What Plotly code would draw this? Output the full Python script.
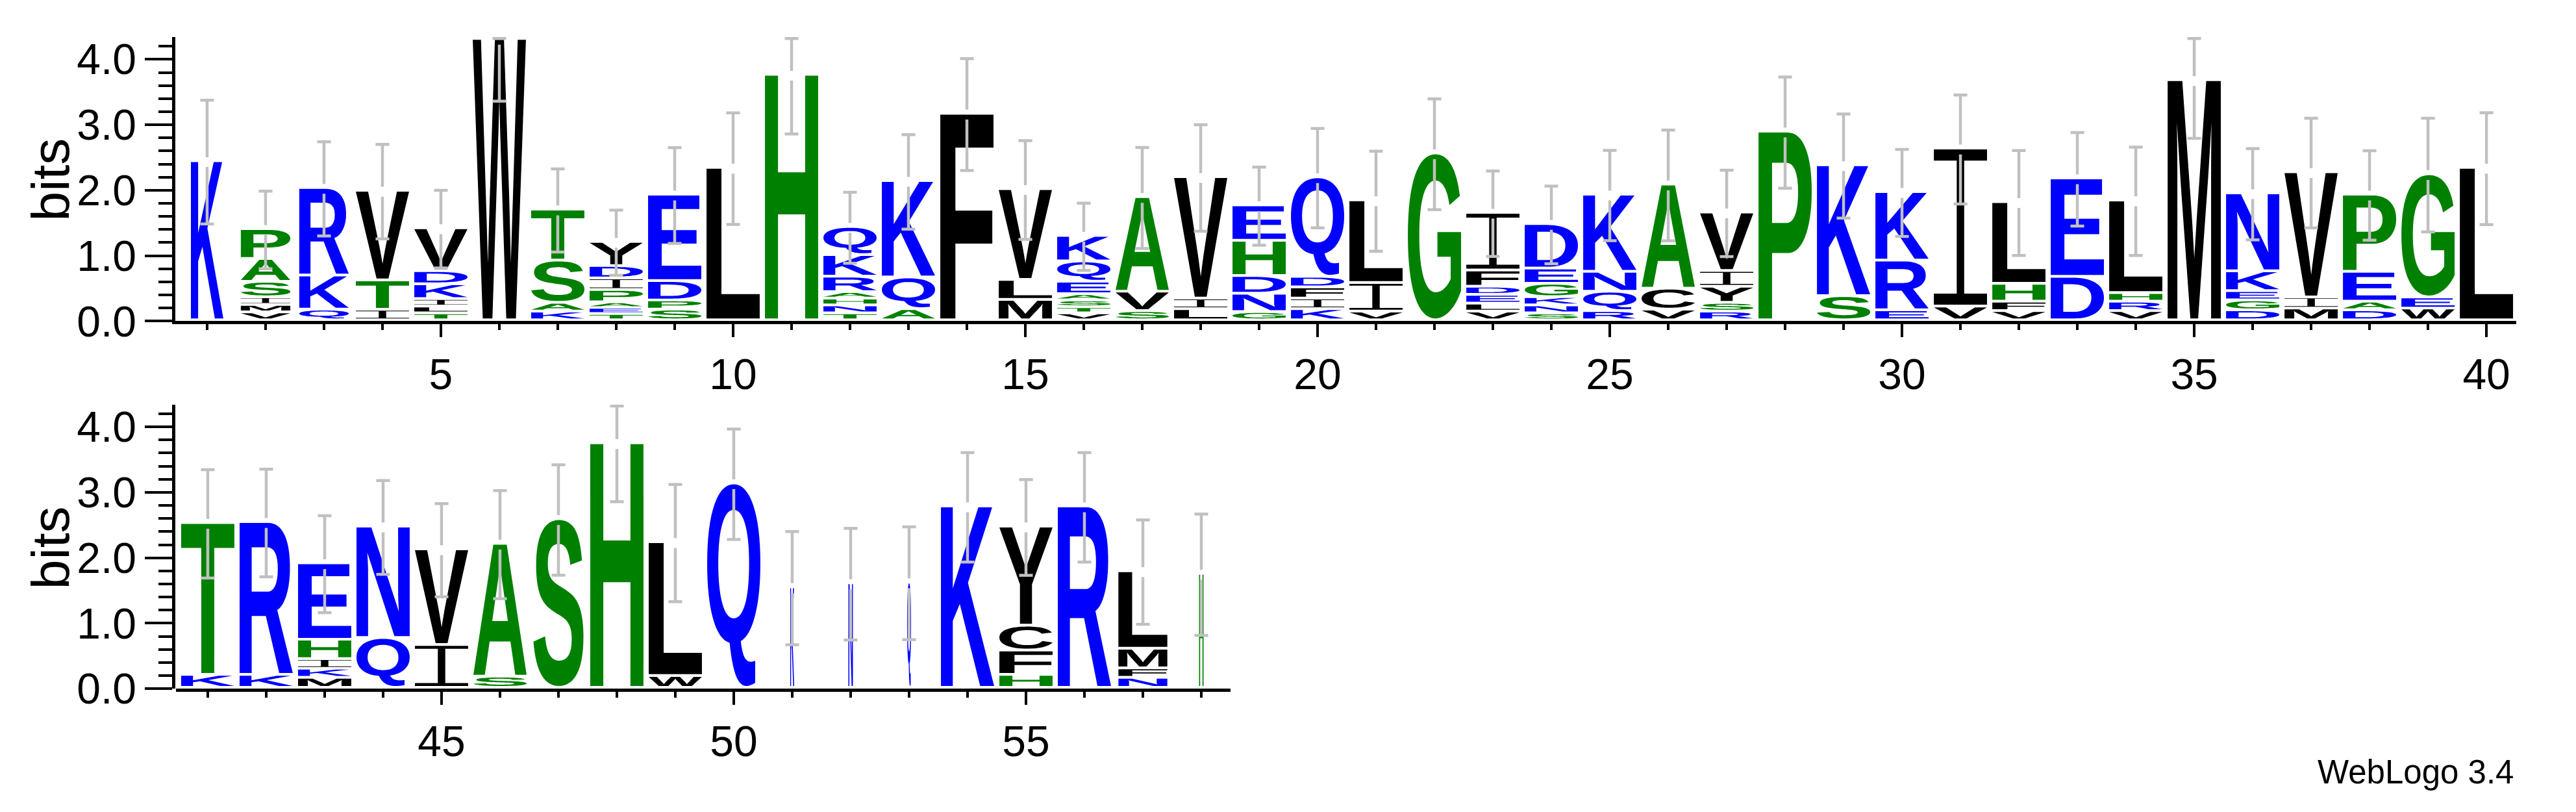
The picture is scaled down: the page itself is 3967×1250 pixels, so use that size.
import struct
import glob
import plotly.graph_objects as go

positions = list(range(1, 59))

# letters of each stack, listed bottom -> top
stack_letters = [
    "K", "VMISAP", "QKR", "ITV", "TLIKDV", "W", "KAST", "TEAPIDY", "SPDE", "L",
    "H", "TNHARKQ", "AQK", "F", "MLV", "VTSAEQK", "SVA", "LIV", "GNDHE", "KIFDQ",
    "VIL", "G", "VLEDFI", "SNKGED", "RQNK", "VCA", "RSYIV", "P", "SK", "ERK",
    "VI", "VFHL", "DE", "VRHL", "M", "DGEKN", "MIV", "DAEP", "WEG", "L",
    "KT", "KR", "MKIHE", "QN", "IV", "SA", "S", "H", "WL", "Q",
    "K", "N", "Q", "K", "HFCY", "R", "NFML", "H",
]

# height (bits) of each letter, same order as stack_letters
stack_heights = [
    [2.43], [0.12, 0.114, 0.118, 0.236, 0.35, 0.456], [0.163, 0.52, 1.338],
    [0.16, 0.449, 1.369], [0.106, 0.103, 0.114, 0.228, 0.2, 0.654], [4.30],
    [0.133, 0.133, 0.646, 0.78], [0.095, 0.095, 0.084, 0.19, 0.175, 0.19, 0.369],
    [0.163, 0.14, 0.297, 1.319], [2.33],
    [3.75], [0.106, 0.122, 0.103, 0.099, 0.236, 0.33, 0.43], [0.171, 0.483, 1.475],
    [3.156], [0.312, 0.304, 1.388], [0.106, 0.095, 0.103, 0.095, 0.19, 0.31, 0.39],
    [0.14, 0.297, 1.445], [0.171, 0.16, 1.856], [0.125, 0.281, 0.27, 0.54, 0.54],
    [0.171, 0.16, 0.171, 0.163, 1.52],
    [0.133, 0.437, 1.262], [2.55], [0.133, 0.122, 0.133, 0.125, 0.247, 0.882],
    [0.106, 0.122, 0.125, 0.205, 0.232, 0.68], [0.14, 0.297, 0.304, 1.179],
    [0.163, 0.32, 1.59], [0.133, 0.133, 0.247, 0.24, 0.894], [2.882], [0.369, 2.0],
    [0.152, 0.76, 1.046],
    [0.209, 2.414], [0.14, 0.144, 0.274, 1.247], [0.665, 1.502],
    [0.14, 0.144, 0.133, 1.414], [3.669], [0.152, 0.152, 0.141, 0.304, 1.19],
    [0.179, 0.171, 1.913], [0.152, 0.133, 0.456, 1.179], [0.179, 0.171, 1.882], [2.33],
    [0.198, 2.321], [0.198, 2.334], [0.154, 0.137, 0.147, 0.297, 1.167],
    [0.761, 1.703], [0.655, 1.461], [0.171, 2.03], [2.577], [3.737], [0.181, 2.044],
    [3.123],
    [1.536], [1.597], [1.611], [2.771], [0.198, 0.372, 0.379, 1.515], [2.771],
    [0.154, 0.143, 0.3, 1.184], [1.741],
]

# half-length of the error bar (bits)
error_bits = [
    0.945, 0.593, 0.72, 0.722, 0.593, 0.94, 0.635, 0.498, 0.732, 0.852,
    0.89, 0.542, 0.722, 0.854, 0.755, 0.513, 0.772, 0.814, 0.597, 0.76,
    0.764, 0.846, 0.652, 0.593, 0.69, 0.846, 0.66, 0.85, 0.795, 0.665,
    0.833, 0.802, 0.715, 0.827, 0.875, 0.698, 0.837, 0.684, 0.869, 0.854,
    0.828, 0.823, 0.741, 0.717, 0.712, 0.826, 0.843, 0.88, 0.896, 0.843,
    0.865, 0.853, 0.862, 0.836, 0.732, 0.836, 0.797, 0.927,
]

# relative stack width (fraction of non-gap sequences)
stack_width = [
    0.61, 0.93, 0.93, 1, 1, 1, 1, 1, 1, 1,
    1, 1, 1, 1, 1, 1, 1, 1, 1, 1,
    1, 1, 1, 1, 1, 1, 1, 1, 1, 1,
    1, 1, 1, 1, 1, 1, 1, 1, 1, 1,
    1, 1, 1, 1, 1, 1, 0.94, 1, 1, 1,
    0.075, 0.085, 0.075, 1, 1, 1, 0.92, 0.085,
]

row1_ticks = [5, 10, 15, 20, 25, 30, 35, 40]
row2_ticks = [45, 50, 55]
y_ticks = [0, 1, 2, 3, 4]

# hydrophobicity colour scheme
BLUE, GREEN, BLACK = "#0000FF", "#008000", "#000000"
letter_color = {}
for c in "RKDENQ":
    letter_color[c] = BLUE
for c in "SGHTAP":
    letter_color[c] = GREEN
for c in "YVMCLFIW":
    letter_color[c] = BLACK


# ---------------- glyph outlines from an installed TrueType font ----------------
def _quad(p0, c, p1, steps):
    out = []
    for k in range(1, steps + 1):
        t = k / steps
        a = (1 - t) ** 2
        b = 2 * (1 - t) * t
        cc = t * t
        out.append((a * p0[0] + b * c[0] + cc * p1[0], a * p0[1] + b * c[1] + cc * p1[1]))
    return out


def _flatten(pts, steps=8):
    if not any(p[2] for p in pts):
        a, b = pts[-1], pts[0]
        pts = [((a[0] + b[0]) / 2, (a[1] + b[1]) / 2, True)] + pts
    start = next(i for i, p in enumerate(pts) if p[2])
    seq = pts[start:] + pts[:start]
    m = len(seq)
    cur = (seq[0][0], seq[0][1])
    out = [cur]
    ctrl = None
    for k in range(1, m + 1):
        p = seq[k % m]
        q = (p[0], p[1])
        if p[2]:
            if ctrl is None:
                out.append(q)
            else:
                out.extend(_quad(cur, ctrl, q, steps))
                ctrl = None
            cur = q
        else:
            if ctrl is None:
                ctrl = q
            else:
                mid = ((ctrl[0] + q[0]) / 2, (ctrl[1] + q[1]) / 2)
                out.extend(_quad(cur, ctrl, mid, steps))
                cur = mid
                ctrl = q
    return out


class TTF:
    def __init__(self, path):
        with open(path, "rb") as fh:
            d = fh.read()
        self.d = d
        n = struct.unpack(">H", d[4:6])[0]
        self.t = {}
        for i in range(n):
            tag, _, off, _ = struct.unpack(">4sIII", d[12 + 16 * i:28 + 16 * i])
            self.t[tag.decode("latin1")] = off
        h = self.t["head"]
        loc_fmt = struct.unpack(">h", d[h + 50:h + 52])[0]
        mp = self.t["maxp"]
        ng = struct.unpack(">H", d[mp + 4:mp + 6])[0]
        lo = self.t["loca"]
        if loc_fmt == 0:
            self.loca = [2 * v for v in struct.unpack(">%dH" % (ng + 1), d[lo:lo + 2 * (ng + 1)])]
        else:
            self.loca = list(struct.unpack(">%dI" % (ng + 1), d[lo:lo + 4 * (ng + 1)]))
        self.cmap = self._cmap()

    def _cmap(self):
        d = self.d
        off = self.t["cmap"]
        n = struct.unpack(">H", d[off + 2:off + 4])[0]
        sub = None
        for i in range(n):
            pid, eid, so = struct.unpack(">HHI", d[off + 4 + 8 * i:off + 12 + 8 * i])
            fmt = struct.unpack(">H", d[off + so:off + so + 2])[0]
            if fmt == 4:
                sub = off + so
                if (pid, eid) == (3, 1):
                    break
        segx2 = struct.unpack(">H", d[sub + 6:sub + 8])[0]
        seg = segx2 // 2
        ends = struct.unpack(">%dH" % seg, d[sub + 14:sub + 14 + segx2])
        starts = struct.unpack(">%dH" % seg, d[sub + 16 + segx2:sub + 16 + 2 * segx2])
        deltas = struct.unpack(">%dh" % seg, d[sub + 16 + 2 * segx2:sub + 16 + 3 * segx2])
        rpos = sub + 16 + 3 * segx2
        roffs = struct.unpack(">%dH" % seg, d[rpos:rpos + segx2])
        m = {}
        for code in range(65, 91):
            for i in range(seg):
                if starts[i] <= code <= ends[i]:
                    if roffs[i] == 0:
                        g = (code + deltas[i]) & 0xFFFF
                    else:
                        addr = rpos + 2 * i + roffs[i] + 2 * (code - starts[i])
                        g = struct.unpack(">H", d[addr:addr + 2])[0]
                        if g:
                            g = (g + deltas[i]) & 0xFFFF
                    m[chr(code)] = g
                    break
        return m

    def polys(self, ch):
        d = self.d
        gid = self.cmap[ch]
        g = self.t["glyf"] + self.loca[gid]
        nc = struct.unpack(">h", d[g:g + 2])[0]
        if nc <= 0:
            raise ValueError("composite glyph")
        p = g + 10
        ends = struct.unpack(">%dH" % nc, d[p:p + 2 * nc])
        p += 2 * nc
        il = struct.unpack(">H", d[p:p + 2])[0]
        p += 2 + il
        npts = ends[-1] + 1
        flags = []
        while len(flags) < npts:
            f = d[p]
            p += 1
            flags.append(f)
            if f & 8:
                r = d[p]
                p += 1
                flags.extend([f] * r)
        flags = flags[:npts]
        xs, v = [], 0
        for f in flags:
            if f & 2:
                dv = d[p]
                p += 1
                v += dv if f & 16 else -dv
            elif not f & 16:
                v += struct.unpack(">h", d[p:p + 2])[0]
                p += 2
            xs.append(v)
        ys, v = [], 0
        for f in flags:
            if f & 4:
                dv = d[p]
                p += 1
                v += dv if f & 32 else -dv
            elif not f & 32:
                v += struct.unpack(">h", d[p:p + 2])[0]
                p += 2
            ys.append(v)
        out, s = [], 0
        for e in ends:
            pts = [(xs[i], ys[i], bool(flags[i] & 1)) for i in range(s, e + 1)]
            s = e + 1
            if len(pts) >= 2:
                out.append(_flatten(pts))
        return out


def _normalise(polys):
    xs = [x for poly in polys for x, _ in poly]
    ys = [y for poly in polys for _, y in poly]
    x0, x1, y0, y1 = min(xs), max(xs), min(ys), max(ys)
    return [[((x - x0) / (x1 - x0), (y - y0) / (y1 - y0)) for x, y in poly] for poly in polys]


# serif "I" as drawn by WebLogo
SERIF_I = [[(0, 0), (1, 0), (1, 0.072), (0.57, 0.072), (0.57, 0.928), (1, 0.928), (1, 1),
            (0, 1), (0, 0.928), (0.43, 0.928), (0.43, 0.072), (0, 0.072)]]
BOX = [[(0, 0), (1, 0), (1, 1), (0, 1)]]


def load_glyphs():
    chars = sorted(set("".join(stack_letters)))
    cands = []
    for pat in ["/usr/share/fonts/**/LiberationSans-Bold.ttf",
                "/usr/share/fonts/**/Arimo-Bold.ttf",
                "/usr/share/fonts/**/DejaVuSans-Bold.ttf",
                "/usr/**/LiberationSans-Bold.ttf"]:
        cands += glob.glob(pat, recursive=True)
    glyphs = {}
    for path in cands:
        try:
            font = TTF(path)
            tmp = {}
            for c in chars:
                tmp[c] = _normalise(font.polys(c))
            glyphs = tmp
            break
        except Exception:
            continue
    for c in chars:
        if c not in glyphs:
            glyphs[c] = BOX
    glyphs["I"] = SERIF_I
    return glyphs


GLYPHS = load_glyphs()


def letter_path(polys, x0, x1, y0, y1):
    segs = []
    for poly in polys:
        pts = ["%.4f,%.4f" % (x0 + u * (x1 - x0), y0 + v * (y1 - y0)) for u, v in poly]
        segs.append("M" + "L".join(pts) + "Z")
    return "".join(segs)


# ---------------- figure ----------------
W, H = 3967, 1250
YMAX = 4.34
LOGO_MAX = 4.32
FULL_W = 0.91
GAP = 0.042
ERR_GAP = 0.075
CAP = 0.117

shapes = []
err_x = {0: [], 1: []}
err_y = {0: [], 1: []}

for i, pos in enumerate(positions):
    row = 0 if pos <= 40 else 1
    xr, yr = ("x", "y") if row == 0 else ("x2", "y2")
    w = FULL_W * stack_width[i]
    x0, x1 = pos - w / 2, pos + w / 2
    base = 0.0
    for ch, h in zip(stack_letters[i], stack_heights[i]):
        top = base + h
        yb = base + min(GAP, h * 0.45)
        shapes.append(dict(type="path", path=letter_path(GLYPHS[ch], x0, x1, yb, top),
                           xref=xr, yref=yr, fillcolor=letter_color[ch],
                           line=dict(width=0), layer="below", fillrule="evenodd"))
        base = top
    t, e = base, error_bits[i]
    hi = min(t + e, LOGO_MAX)
    lo = t - e
    ex, ey = err_x[row], err_y[row]
    if t + ERR_GAP < hi:
        ex += [pos, pos, None]
        ey += [t + ERR_GAP, hi, None]
    ex += [pos - CAP, pos + CAP, None]
    ey += [hi, hi, None]
    ex += [pos, pos, None, pos - CAP, pos + CAP, None]
    ey += [t - ERR_GAP, lo, None, lo, lo, None]

fig = go.Figure()
for row, (xa, ya) in enumerate([("x", "y"), ("x2", "y2")]):
    fig.add_trace(go.Scatter(x=err_x[row], y=err_y[row], mode="lines", xaxis=xa, yaxis=ya,
                             line=dict(color="#c0c0c0", width=4.5), hoverinfo="skip",
                             showlegend=False))

FONT = "Liberation Sans, Arial, Helvetica, sans-serif"
tickfont = dict(family=FONT, size=66, color="black")


def yaxis_cfg(domain):
    return dict(domain=domain, range=[0, YMAX], showgrid=False, zeroline=False,
                showline=True, linecolor="black", linewidth=4.5,
                ticks="outside", ticklen=42, tickwidth=4, tickcolor="black",
                tickmode="array", tickvals=y_ticks, ticktext=["%.1f" % v for v in y_ticks],
                tickfont=tickfont,
                minor=dict(ticks="outside", ticklen=21, tickwidth=4, tickcolor="black",
                           tickmode="linear", tick0=0, dtick=0.2))


def xaxis_cfg(domain, rng, ticks, anchor):
    return dict(domain=domain, range=rng, anchor=anchor, showgrid=False, zeroline=False,
                showline=True, linecolor="black", linewidth=5,
                ticks="outside", ticklen=20, tickwidth=4, tickcolor="black",
                tickmode="array", tickvals=ticks, ticktext=[str(v) for v in ticks],
                tickfont=tickfont,
                minor=dict(ticks="outside", ticklen=9, tickwidth=4, tickcolor="black",
                           tickmode="linear", tick0=0, dtick=1))


y1_bottom, y2_bottom = 500, 1084
bit_px = 104
fig.update_layout(
    width=W, height=H, autosize=False,
    margin=dict(l=0, r=0, t=0, b=0),
    paper_bgcolor="white", plot_bgcolor="white",
    showlegend=False,
    font=dict(family=FONT, color="black"),
    shapes=shapes,
    xaxis=xaxis_cfg([262 / W, 3867 / W], [0.456, 40.51], row1_ticks, "y"),
    yaxis=yaxis_cfg([1 - y1_bottom / H, 1 - (y1_bottom - YMAX * bit_px) / H]),
    xaxis2=xaxis_cfg([263 / W, 1887 / W], [40.456, 58.5], row2_ticks, "y2"),
    yaxis2=yaxis_cfg([1 - y2_bottom / H, 1 - (y2_bottom - YMAX * bit_px) / H]),
    annotations=[
        dict(text="bits", textangle=-90, xref="paper", yref="paper", x=69 / W,
             y=1 - 275 / H, xanchor="center", yanchor="middle", showarrow=False,
             font=dict(family=FONT, size=82, color="black")),
        dict(text="bits", textangle=-90, xref="paper", yref="paper", x=69 / W,
             y=1 - 860 / H, xanchor="center", yanchor="middle", showarrow=False,
             font=dict(family=FONT, size=82, color="black")),
        dict(text="WebLogo 3.4", xref="paper", yref="paper", x=3865 / W,
             y=1 - 1216 / H, xanchor="right", yanchor="middle", showarrow=False,
             font=dict(family=FONT, size=51, color="black")),
    ],
)

fig.write_html("out.html")
